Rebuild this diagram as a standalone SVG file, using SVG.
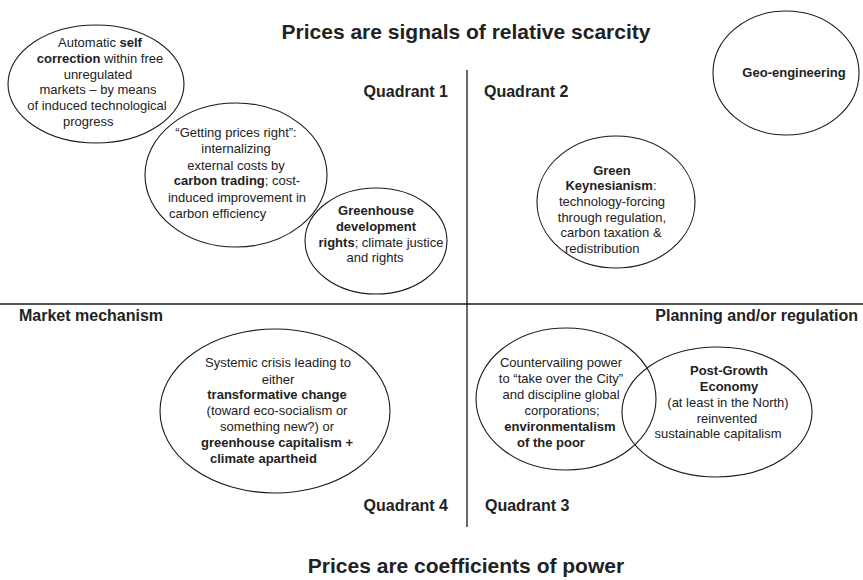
<svg xmlns="http://www.w3.org/2000/svg" width="863" height="580" viewBox="0 0 863 580">
<style>
  .bg { fill: #ffffff; }
  .ell { fill: none; stroke: #1a1a1a; stroke-width: 1.1; }
  .axis { stroke: #1a1a1a; stroke-width: 1.3; fill: none; }
  .t { font-family: "Liberation Sans", Arial, sans-serif; font-size: 13px; fill: #222222; text-anchor: middle; }
  .l { text-anchor: start; }
  .b { font-weight: bold; }
  .q { font-family: "Liberation Sans", Arial, sans-serif; font-size: 16px; font-weight: bold; fill: #222222; }
  .title { font-family: "Liberation Sans", Arial, sans-serif; font-size: 21px; font-weight: bold; fill: #222222; text-anchor: middle; }
</style>
<rect class="bg" x="0" y="0" width="863" height="580"/>

<g id="connectors">
  <line class="axis" x1="467" y1="70" x2="467" y2="527"/>
  <line class="axis" x1="0" y1="304" x2="863" y2="304"/>
</g>

<g id="labels">
  <text class="title" x="466" y="39">Prices are signals of relative scarcity</text>
  <text class="title" x="466" y="573">Prices are coefficients of power</text>
  <text class="q" x="448" y="97" text-anchor="end">Quadrant 1</text>
  <text class="q" x="484" y="97">Quadrant 2</text>
  <text class="q" x="448" y="511" text-anchor="end">Quadrant 4</text>
  <text class="q" x="485" y="511">Quadrant 3</text>
  <text class="q" x="19" y="321">Market mechanism</text>
  <text class="q" x="858" y="321" text-anchor="end">Planning and/or regulation</text>
</g>

<g id="node-self-correction">
  <ellipse class="ell" cx="96" cy="84" rx="88" ry="59"/>
  <text class="t" x="100" y="47">Automatic <tspan class="b">self</tspan></text>
  <text class="t" x="100" y="63"><tspan class="b">correction</tspan> within free</text>
  <text class="t" x="98" y="79">unregulated</text>
  <text class="t" x="98" y="94">markets – by means</text>
  <text class="t" x="97" y="110">of induced technological</text>
  <text class="t l" x="63" y="126">progress</text>
</g>

<g id="node-prices-right">
  <ellipse class="ell" cx="236" cy="175" rx="91" ry="72"/>
  <text class="t" x="236" y="137">“Getting prices right”:</text>
  <text class="t" x="236" y="153">internalizing</text>
  <text class="t" x="236" y="170">external costs by</text>
  <text class="t" x="237" y="185"><tspan class="b">carbon trading</tspan>; cost-</text>
  <text class="t" x="237" y="202">induced improvement in</text>
  <text class="t l" x="169" y="218">carbon efficiency</text>
</g>

<g id="node-greenhouse-rights">
  <ellipse class="ell" cx="376" cy="241" rx="71" ry="53"/>
  <text class="t b" x="376" y="215">Greenhouse</text>
  <text class="t b" x="376" y="231">development</text>
  <text class="t" x="381" y="247"><tspan class="b">rights</tspan>; climate justice</text>
  <text class="t" x="375" y="262">and rights</text>
</g>

<g id="node-geo-engineering">
  <ellipse class="ell" cx="786" cy="73" rx="73" ry="62"/>
  <text class="t b" x="794" y="77">Geo-engineering</text>
</g>

<g id="node-green-keynesianism">
  <ellipse class="ell" cx="616" cy="202" rx="79" ry="66"/>
  <text class="t b" x="612" y="175">Green</text>
  <text class="t" x="611" y="190"><tspan class="b">Keynesianism</tspan>:</text>
  <text class="t" x="612" y="206">technology-forcing</text>
  <text class="t" x="612" y="222">through regulation,</text>
  <text class="t" x="611" y="237">carbon taxation &amp;</text>
  <text class="t l" x="565" y="253">redistribution</text>
</g>

<g id="node-systemic-crisis">
  <ellipse class="ell" cx="275" cy="411" rx="115" ry="82"/>
  <text class="t" x="278" y="367">Systemic crisis leading to</text>
  <text class="t" x="278" y="384">either</text>
  <text class="t b" x="277" y="399">transformative change</text>
  <text class="t" x="277" y="415">(toward eco-socialism or</text>
  <text class="t" x="277" y="431">something new?) or</text>
  <text class="t b" x="277" y="447">greenhouse capitalism +</text>
  <text class="t b l" x="210" y="463">climate apartheid</text>
</g>

<g id="node-countervailing">
  <ellipse class="ell" cx="566" cy="399" rx="90" ry="71"/>
  <text class="t" x="561" y="367">Countervailing power</text>
  <text class="t" x="561" y="383">to “take over the City”</text>
  <text class="t" x="561" y="399">and discipline global</text>
  <text class="t" x="562" y="415">corporations;</text>
  <text class="t b" x="560" y="431">environmentalism</text>
  <text class="t b l" x="517" y="447">of the poor</text>
</g>

<g id="node-post-growth">
  <ellipse class="ell" cx="717" cy="412" rx="95" ry="65"/>
  <text class="t b" x="729" y="375">Post-Growth</text>
  <text class="t b" x="729" y="391">Economy</text>
  <text class="t" x="728" y="407">(at least in the North)</text>
  <text class="t" x="727" y="423">reinvented</text>
  <text class="t" x="718" y="438">sustainable capitalism</text>
</g>
</svg>
